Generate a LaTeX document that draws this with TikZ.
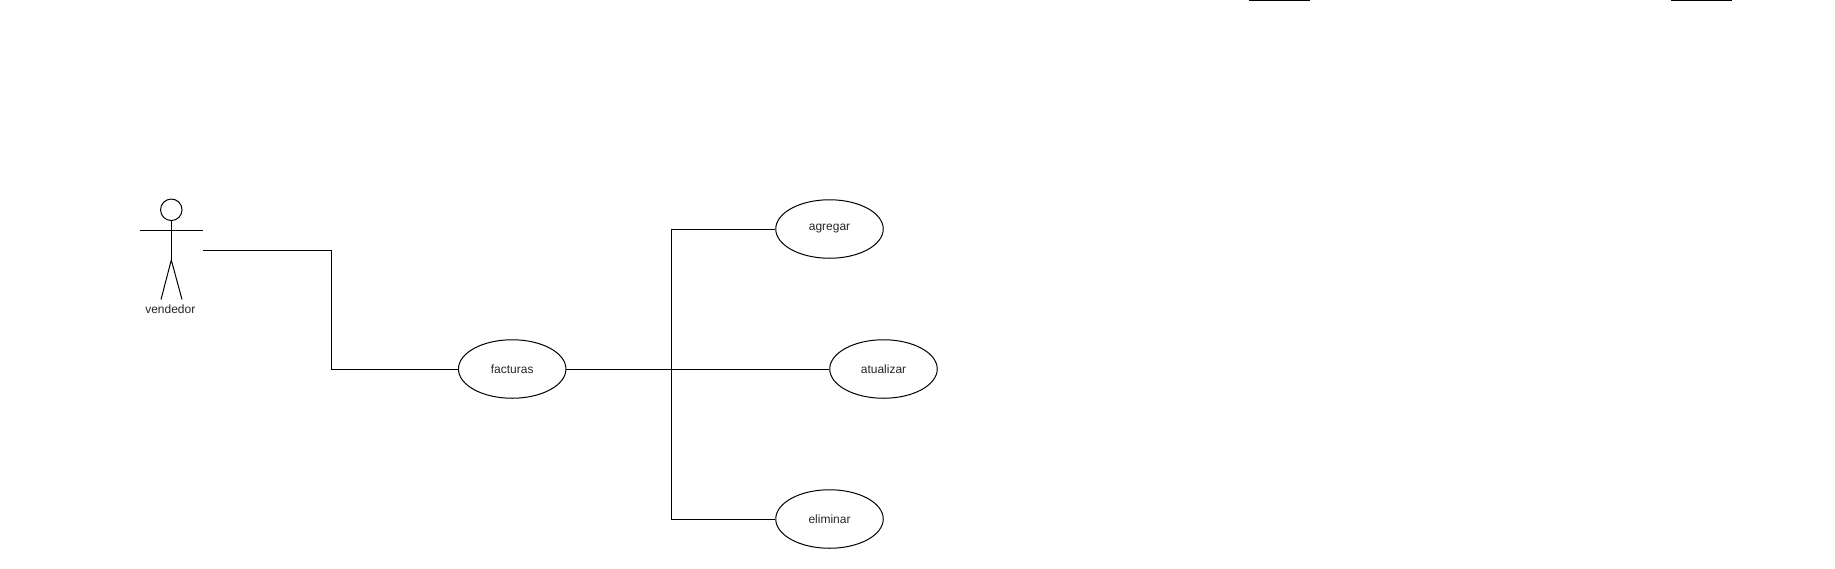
\documentclass[tikz,border=0pt]{standalone}
\usepackage{fontspec}
\usetikzlibrary{shapes.geometric}
\setmainfont{Liberation Sans}
\begin{document}
\begin{tikzpicture}[x=1pt,y=-1pt,line width=1pt,
  usecase/.style={draw=black,ellipse,minimum width=107.5pt,minimum height=58.5pt,inner sep=0pt,font=\fontsize{12}{14}\selectfont,text=black!85},
  wire/.style={draw=black,line width=1pt},
  actorline/.style={draw=black,line width=1pt},
  lab/.style={inner sep=0pt,font=\fontsize{12}{14}\selectfont,text=black!85}]
\useasboundingbox (0,0) rectangle (1835,568);
% top stubs
\coordinate (t1a) at (1248.5,0.5); \coordinate (t1b) at (1309.5,0.5);
\coordinate (t2a) at (1671,0.5); \coordinate (t2b) at (1732,0.5);
\draw[wire] (t1a) -- (t1b);
\draw[wire] (t2a) -- (t2b);
% actor
\node[draw=black,circle,minimum size=21.5pt,inner sep=0pt] (head) at (171.3,209.8) {};
\coordinate (handL) at (140,230); \coordinate (handR) at (203,230);
\coordinate (hip) at (171.3,260);
\coordinate (footL) at (161,299.5); \coordinate (footR) at (182,299.5);
\coordinate (out) at (203,250);
\draw[actorline] (handL) -- (handR);
\draw[actorline] (head.south) -- (hip);
\draw[actorline] (footL) -- (hip) -- (footR);
\node[lab] (vendedor) at (170.3,309) {vendedor};
% use cases
\node[usecase] (facturas) at (512.2,369) {facturas};
\node[usecase] (agregar) at (829.5,229) {agregar};
\node[usecase] (atualizar) at (883.5,369) {atualizar};
\node[usecase] (eliminar) at (829.5,519) {eliminar};
% connectors
\coordinate (hub) at (671,369);
\draw[wire] (out) -| (331.5,369) -- (facturas.west);
\draw[wire] (hub) -- (atualizar.west);
\draw[wire] (facturas.east) -- (hub);
\draw[wire] (facturas.east) -- (hub);
\draw[wire] (facturas.east) -- (hub);
\draw[wire] (agregar.west) -- (671,229) -- (671,519) -- (eliminar.west);
\end{tikzpicture}
\end{document}
